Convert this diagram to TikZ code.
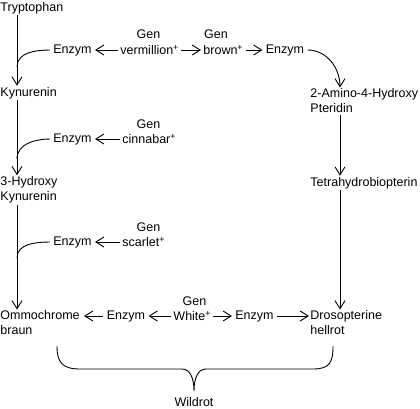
\documentclass[tikz,border=0pt]{standalone}
\usepackage{fontspec}
\setmainfont{Liberation Sans}
\usetikzlibrary{arrows.meta, positioning, calc}

\begin{document}
\begin{tikzpicture}[
        x=1pt, y=-1pt,
        line width=0.9pt,
        font=\fontsize{12.5}{15}\selectfont,
        stoff/.style={inner sep=1pt, anchor=west, align=left},
        enzym/.style={inner sep=3pt},
        gen/.style={inner sep=2pt, anchor=west},
        genlbl/.style={inner sep=1pt},
        pfeil/.style={-{Straight Barb[length=8pt, width=10pt]}}
    ]
    \useasboundingbox (0,0) rectangle (420,408);

    % Columns
    \coordinate (lcol) at (17,0);
    \coordinate (rcol) at (340,0);

    % Substances left
    \node[stoff] (Tryp) at (-1,8) {Tryptophan};
    \node[stoff] (Kyn) at (-1,93) {Kynurenin};
    \node[stoff] (HKyn) at (-1,190) {3-Hydroxy\\Kynurenin};
    \node[stoff] (Omm) at (-1,323) {Ommochrome\\braun};

    % Substances right
    \node[stoff] (Amino) at (309,101) {2-Amino-4-Hydroxy\\Pteridin};
    \node[stoff] (Tetra) at (309,183) {Tetrahydrobiopterin};
    \node[stoff] (Dros) at (309,323) {Drosopterine\\hellrot};

    % Enzymes
    \node[enzym] (EnzV) at (72.5,50) {Enzym};
    \node[enzym] (EnzB) at (285,50) {Enzym};
    \node[enzym] (EnzC) at (72.5,139) {Enzym};
    \node[enzym] (EnzS) at (72.5,242) {Enzym};
    \node[enzym] (EnzWl) at (126,316) {Enzym};
    \node[enzym] (EnzWr) at (254.5,316) {Enzym};

    % Genes
    \node[gen] (Verm) at (118,50) {vermillion\textsuperscript{+}};
    \node[gen] (Brown) at (201,50) {brown\textsuperscript{+}};
    \node[gen] (Cinn) at (120,139) {cinnabar\textsuperscript{+}};
    \node[gen] (Scar) at (120,242) {scarlet\textsuperscript{+}};
    \node[gen] (White) at (171,316) {White\textsuperscript{+}};

    \foreach \g/\x/\y in {Verm/148.5/34.5, Brown/216/34.5, Cinn/148.5/124, Scar/148.5/227, White/194.5/301} {
        \node[genlbl] (Gen\g) at (\x,\y) {Gen};
    }

    % Main pathways
    \draw[pfeil] (Tryp.south -| lcol) -- (Kyn.north -| lcol);
    \draw[pfeil] (Kyn.south -| lcol) -- (HKyn.north -| lcol);
    \draw[pfeil] (HKyn.south -| lcol) -- (Omm.north -| lcol);
    \draw[pfeil] (Amino.south -| rcol) -- (Tetra.north -| rcol);
    \draw[pfeil] (Tetra.south -| rcol) -- (Dros.north -| rcol);

    % Enzymes acting on the pathway
    \draw (EnzV.west) to[out=180, in=90] ([yshift=-17pt]EnzV.west -| lcol);
    \draw (EnzC.west) to[out=180, in=90] ([yshift=-20pt]EnzC.west -| lcol);
    \draw (EnzS.west) to[out=180, in=90] ([yshift=-16pt]EnzS.west -| lcol);
    \draw[pfeil] (EnzB.east) to[out=0, in=90] (Amino.north -| rcol);

    % Genes to enzymes
    \draw[pfeil] (Verm) -- (EnzV);
    \draw[pfeil] (Verm) -- (Brown);
    \draw[pfeil] (Brown) -- (EnzB);
    \draw[pfeil] (Cinn) -- (EnzC);
    \draw[pfeil] (Scar) -- (EnzS);
    \draw[pfeil] (White) -- (EnzWl);
    \draw[pfeil] (White) -- (EnzWr);
    \draw[pfeil, shorten >=3pt] (EnzWl.west) -- (EnzWl.west -| Omm.east);
    \draw[pfeil] (EnzWr.east) -- (EnzWr.east -| Dros.west);

    % Brace
    \node[genlbl] (Wild) at (194,402) {Wildrot};
    \coordinate (BrL) at (57,346);
    \coordinate (BrR) at (333,346);
    \coordinate (BrTip) at (Wild.north |- 0,391);
    \draw (BrL) .. controls (57,362) and (62,369) .. (80,369) -- (182,369)
        .. controls (190,369) and (194,378) .. (BrTip)
        .. controls (194,378) and (198,369) .. (206,369) -- (313,369)
        .. controls (330,369) and (333,362) .. (BrR);

\end{tikzpicture}
\end{document}
